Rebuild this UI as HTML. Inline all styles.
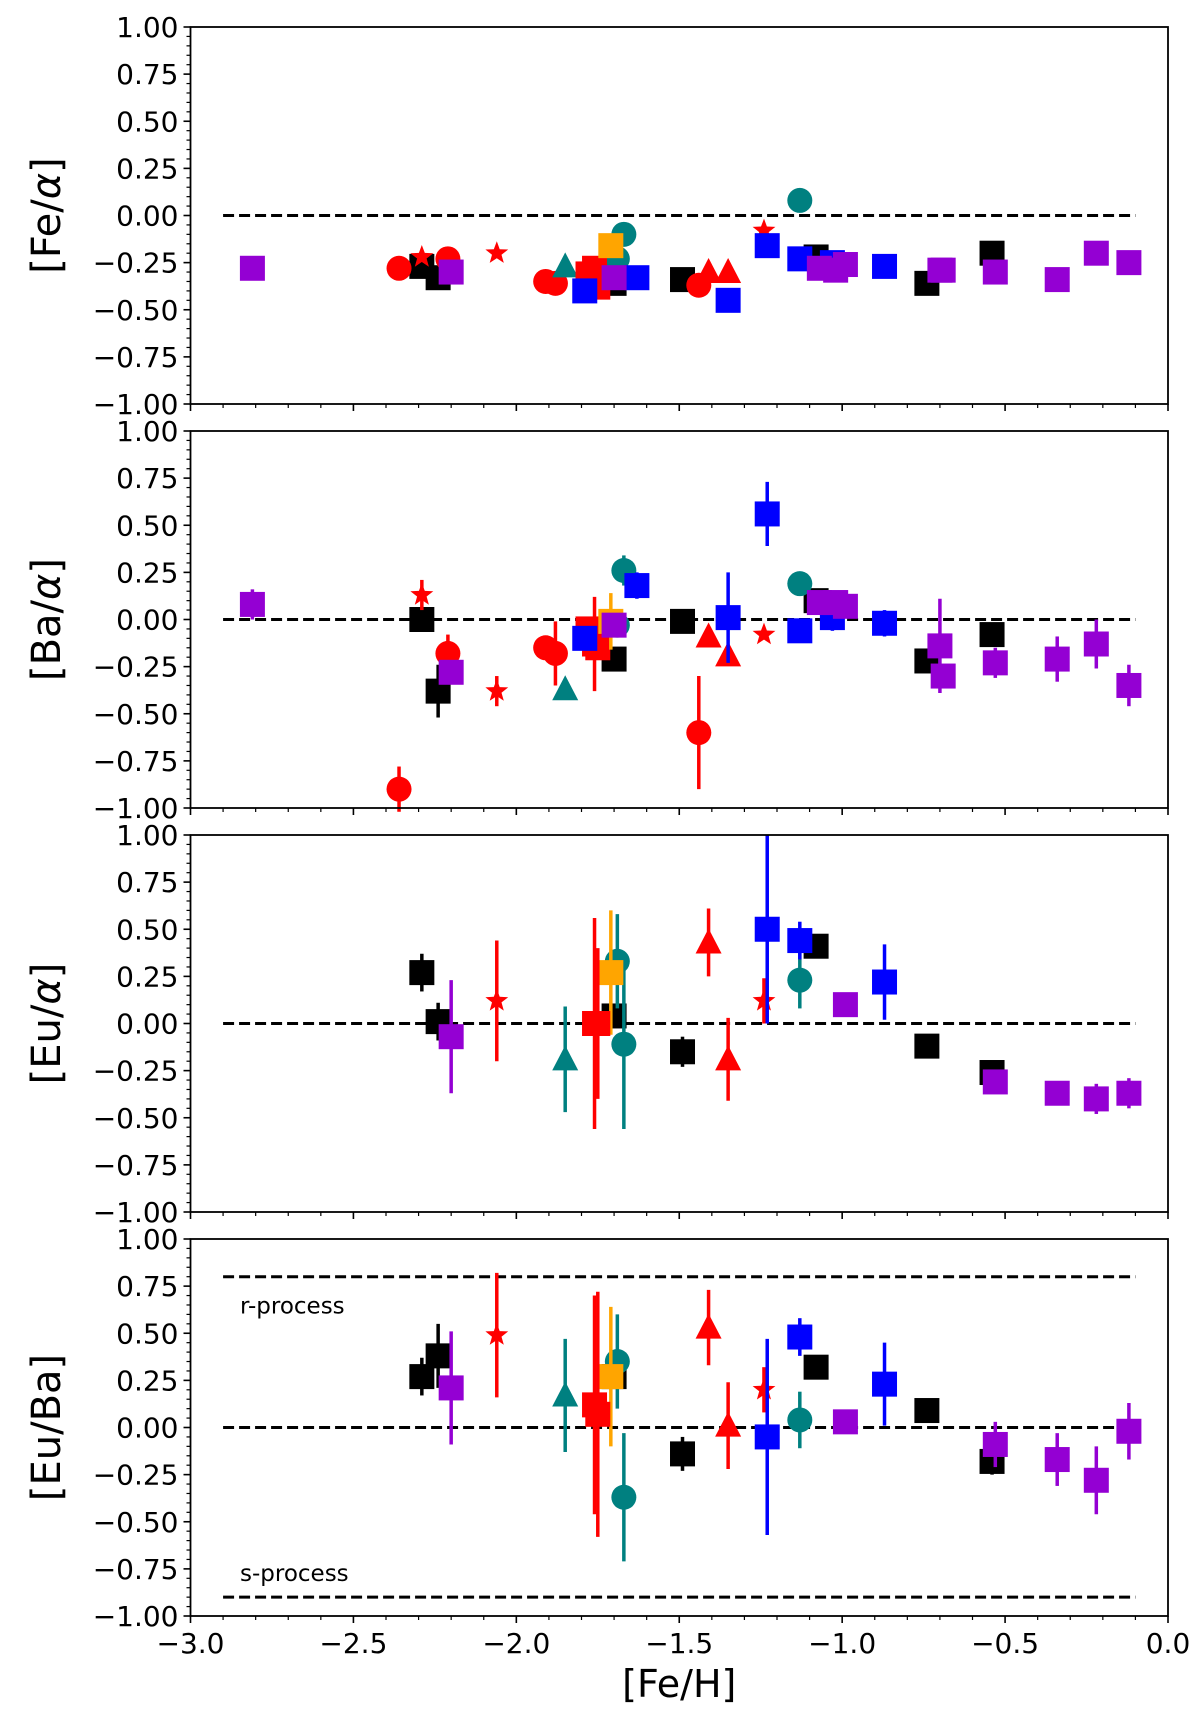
<!DOCTYPE html>
<html><head><meta charset="utf-8">
<style>
html,body{margin:0;padding:0;background:#fff;}
svg{display:block;font-family:"DejaVu Sans","Liberation Sans",sans-serif;}
</style></head>
<body>
<svg id="chart" width="1200" height="1720" viewBox="0 0 1200 1720" xmlns="http://www.w3.org/2000/svg"></svg>
<script>
// ---- data ----
const panelLabels = [["[Fe/","α","]"], ["[Ba/","α","]"], ["[Eu/","α","]"], ["[Eu/Ba]","",""]];
const yTickLabels = ["1.00","0.75","0.50","0.25","0.00","−0.25","−0.50","−0.75","−1.00"];
const yTickValues = [1,0.75,0.5,0.25,0,-0.25,-0.5,-0.75,-1];
const xTickValues = [-3,-2.5,-2,-1.5,-1,-0.5,0];
const xTickLabels = ["−3.0","−2.5","−2.0","−1.5","−1.0","−0.5","0.0"];

// black squares
const blackX  = [-2.29,-2.24,-1.70,-1.49,-1.08,-0.74,-0.54];
const blackP1 = [-0.27,-0.33,-0.36,-0.34,-0.22,-0.36,-0.20];
const blackP2 = [0.00,-0.38,-0.21,-0.01,0.10,-0.22,-0.08];
const blackE2 = [0.03,0.14,0.05,0.03,0.03,0.04,0.04];
const blackP3 = [0.27,0.01,0.04,-0.15,0.41,-0.12,-0.26];
const blackE3 = [0.10,0.10,0.06,0.08,0.03,0.03,0.05];
const blackP4 = [0.27,0.38,0.27,-0.14,0.32,0.09,-0.18];
const blackE4 = [0.10,0.17,0.05,0.09,0.03,0.05,0.07];
// purple squares
const purpX  = [-2.81,-2.20,-1.70,-1.07,-1.02,-0.99,-0.70,-0.69,-0.53,-0.34,-0.22,-0.12];
const purpP1 = [-0.28,-0.30,-0.33,-0.28,-0.29,-0.26,-0.29,-0.29,-0.30,-0.34,-0.20,-0.25];
const purpP2 = [0.08,-0.28,-0.03,0.09,0.09,0.07,-0.14,-0.30,-0.23,-0.21,-0.13,-0.35];
const purpE2 = [0.08,0.03,0.03,0.03,0.03,0.03,0.25,0.05,0.08,0.12,0.13,0.11];
const purp3X = [-2.20,-0.99,-0.53,-0.34,-0.22,-0.12];
const purpP3 = [-0.07,0.10,-0.31,-0.37,-0.40,-0.37];
const purpE3 = [0.30,0.04,0.06,0.05,0.08,0.08];
const purpP4 = [0.21,0.03,-0.09,-0.17,-0.28,-0.02];
const purpE4 = [0.30,0.06,0.12,0.14,0.18,0.15];
// blue squares
const blueX  = [-1.79,-1.63,-1.35,-1.23,-1.13,-1.03,-0.87];
const blueP1 = [-0.40,-0.33,-0.45,-0.16,-0.23,-0.25,-0.27];
const blueP2 = [-0.10,0.18,0.01,0.56,-0.06,0.01,-0.02];
const blueE2 = [0.04,0.07,0.24,0.17,0.03,0.07,0.07];
const blue3X = [-1.23,-1.13,-0.87];
const blueP3 = [0.50,0.44,0.22];
const blueE3 = [0.50,0.10,0.20];
const blueP4 = [-0.05,0.48,0.23];
const blueE4 = [0.52,0.10,0.22];
// red squares
const redSqX  = [-1.78,-1.76,-1.75];
const redSqP1 = [-0.31,-0.28,-0.38];
const redSqP2 = [-0.05,-0.13,-0.15];
const redSqE2 = [0.05,0.25,0.05];
const redSq3X = [-1.76,-1.75];
const redSqP3 = [0.00,0.00];
const redSqE3 = [0.56,0.40];
const redSqP4 = [0.12,0.07];
const redSqE4 = [0.58,0.65];
// orange square
const orangeX = [-1.71];
const orangeP1 = [-0.16];
const orangeP2 = [-0.01]; const orangeE2 = [0.15];
const orangeP3 = [0.27];  const orangeE3 = [0.33];
const orangeP4 = [0.27];  const orangeE4 = [0.37];
// red circles
const redCircX  = [-2.36,-2.21,-1.91,-1.88,-1.44];
const redCircP1 = [-0.28,-0.23,-0.35,-0.36,-0.37];
const redCircP2 = [-0.90,-0.18,-0.15,-0.18,-0.60];
const redCircE2 = [0.12,0.10,0.03,0.17,0.30];
// teal circles
const tealCircX  = [-1.69,-1.67,-1.13];
const tealCircP1 = [-0.23,-0.10,0.08];
const tealCircP2 = [-0.03,0.26,0.19];
const tealCircE2 = [0.03,0.08,0.03];
const tealCircP3 = [0.33,-0.11,0.23];
const tealCircE3 = [0.25,0.45,0.15];
const tealCircP4 = [0.35,-0.37,0.04];
const tealCircE4 = [0.25,0.34,0.15];
// red triangles
const redTriX = [-1.41,-1.35];
const redTriP1 = [-0.30,-0.30];
const redTriP2 = [-0.09,-0.19]; const redTriE2 = [0.03,0.03];
const redTriP3 = [0.43,-0.19];  const redTriE3 = [0.18,0.22];
const redTriP4 = [0.53,0.01];   const redTriE4 = [0.20,0.23];
// teal triangle
const tealTriX = [-1.85];
const tealTriP1 = [-0.27];
const tealTriP2 = [-0.37]; const tealTriE2 = [0.03];
const tealTriP3 = [-0.19]; const tealTriE3 = [0.28];
const tealTriP4 = [0.17];  const tealTriE4 = [0.30];
// red stars
const starX  = [-2.29,-2.06,-1.24];
const starP1 = [-0.22,-0.20,-0.08];
const starP2 = [0.13,-0.38,-0.08];
const starE2 = [0.08,0.08,0.02];
const star3X = [-2.06,-1.24];
const starP3 = [0.12,0.12]; const starE3 = [0.32,0.12];
const starP4 = [0.49,0.20]; const starE4 = [0.33,0.12];

// ---- layout ----
const svg = document.getElementById('chart');
const NS = 'http://www.w3.org/2000/svg';
const L = 190.5, R = 1168, TOP0 = 27, PH = 377, PITCH = 404;
function xs(v){ return L + (v + 3) / 3 * (R - L); }
function ys(i, v){ const t = TOP0 + PITCH * i; return t + (1 - v) / 2 * PH; }
function mk(tag, attrs, parent){ const e = document.createElementNS(NS, tag); for (const k in attrs) e.setAttribute(k, attrs[k]); (parent||svg).appendChild(e); return e; }

const C = {black:'#000000', purple:'#9400d3', blue:'#0000ff', red:'#ff0000', orange:'#ffa500', teal:'#008080'};

function drawMarker(g, shape, cx, cy, color){
  let m;
  if (shape === 'square') m = mk('rect', {x:cx-12.5, y:cy-12.5, width:25, height:25, fill:color}, g);
  else if (shape === 'circle') m = mk('circle', {cx:cx, cy:cy, r:12.5, fill:color}, g);
  else if (shape === 'triangle') m = mk('polygon', {points:`${cx},${cy-14} ${cx+13},${cy+11} ${cx-13},${cy+11}`, fill:color}, g);
  else {
    let p = [];
    for (let k = 0; k < 10; k++) { const r = k % 2 ? 5 : 12; const a = -Math.PI/2 + k*Math.PI/5; p.push((cx + r*Math.cos(a)).toFixed(1) + ',' + (cy + r*Math.sin(a)).toFixed(1)); }
    m = mk('polygon', {points:p.join(' '), fill:color}, g);
  }
  
  
}

function series(i, name, shape, color, X, Y, E){
  const g = mk('g', {}, svg);
  
  
  for (let k = 0; k < X.length; k++) {
    if (E) {
      const eb = mk('line', {x1:xs(X[k]), x2:xs(X[k]), y1:ys(i, Y[k]+E[k]), y2:ys(i, Y[k]-E[k]), stroke:color, 'stroke-width':3.5}, g);
      
      
    }
  }
  for (let k = 0; k < X.length; k++) drawMarker(g, shape, xs(X[k]), ys(i, Y[k]), color);
}

function dashed(i, v, name){
  const d = mk('line', {x1:xs(-2.9), x2:xs(-0.1), y1:ys(i, v), y2:ys(i, v), stroke:'#000', 'stroke-width':3, 'stroke-dasharray':'11,5'});
  
  
}

for (let i = 0; i < 4; i++) {
  const t = TOP0 + PITCH * i;
  const ax = mk('g', {});
  
  
  for (let k = 0; k < yTickValues.length; k++) {
    const y = ys(i, yTickValues[k]);
    mk('line', {x1:L-7, x2:L, y1:y, y2:y, stroke:'#000', 'stroke-width':1.6}, ax);
    const tl = mk('text', {x:L-12, y:y+10, 'text-anchor':'end', 'font-size':28, fill:'#000'}, ax);
    tl.textContent = yTickLabels[k];
    
    
  }
  for (let v = -0.95; v < 1; v += 0.05) {
    if (Math.abs(Math.round(v*4) - v*4) < 1e-6) continue;
    const y = ys(i, v);
    mk('line', {x1:L-4, x2:L, y1:y, y2:y, stroke:'#000', 'stroke-width':1.2}, ax);
  }
  for (let k = 0; k < xTickValues.length; k++) {
    const x = xs(xTickValues[k]);
    mk('line', {x1:x, x2:x, y1:t+PH, y2:t+PH+7, stroke:'#000', 'stroke-width':1.6}, ax);
    if (i === 3) {
      const tl = mk('text', {x:x, y:t+PH+37, 'text-anchor':'middle', 'font-size':28, fill:'#000'}, ax);
      tl.textContent = xTickLabels[k];
      
      
    }
  }
  for (let v = -2.9; v < 0; v += 0.1) {
    if (Math.abs(Math.round(v*2) - v*2) < 1e-6) continue;
    const x = xs(v);
    mk('line', {x1:x, x2:x, y1:t+PH, y2:t+PH+4, stroke:'#000', 'stroke-width':1.2}, ax);
  }
  const yl = mk('text', {x:0, y:0, transform:`translate(60 ${t+PH/2}) rotate(-90)`, 'text-anchor':'middle', 'font-size':40, fill:'#000'}, ax);
  
  
  const parts = panelLabels[i];
  const s1 = mk('tspan', {}, yl); s1.textContent = parts[0];
  if (parts[1]) { const s2 = mk('tspan', {'font-style':'italic'}, yl); s2.textContent = parts[1]; }
  if (parts[2]) { const s3 = mk('tspan', {}, yl); s3.textContent = parts[2]; }
  dashed(i, 0, 'zero-line');
}
dashed(3, 0.8, 'r-process-line');
dashed(3, -0.9, 's-process-line');
const rl = mk('text', {x:240, y:ys(3,0.8)+37, 'font-size':23, fill:'#000'}); rl.textContent = 'r-process';


const sl = mk('text', {x:240, y:ys(3,-0.9)-16, 'font-size':23, fill:'#000'}); sl.textContent = 's-process';


const xl = mk('text', {x:(L+R)/2, y:1697, 'text-anchor':'middle', 'font-size':38, fill:'#000'}); xl.textContent = '[Fe/H]';



series(0,'black-squares','square',C.black,blackX,blackP1,null);
series(0,'red-circles','circle',C.red,redCircX,redCircP1,null);
series(0,'red-stars','star',C.red,starX,starP1,null);
series(0,'teal-triangle','triangle',C.teal,tealTriX,tealTriP1,null);
series(0,'red-triangles','triangle',C.red,redTriX,redTriP1,null);
series(0,'teal-circles','circle',C.teal,tealCircX,tealCircP1,null);
series(0,'red-squares','square',C.red,redSqX,redSqP1,null);
series(0,'orange-square','square',C.orange,orangeX,orangeP1,null);
series(0,'blue-squares','square',C.blue,blueX,blueP1,null);
series(0,'purple-squares','square',C.purple,purpX,purpP1,null);
series(1,'black-squares','square',C.black,blackX,blackP2,blackE2);
series(1,'red-circles','circle',C.red,redCircX,redCircP2,redCircE2);
series(1,'red-stars','star',C.red,starX,starP2,starE2);
series(1,'teal-triangle','triangle',C.teal,tealTriX,tealTriP2,tealTriE2);
series(1,'red-triangles','triangle',C.red,redTriX,redTriP2,redTriE2);
series(1,'teal-circles','circle',C.teal,tealCircX,tealCircP2,tealCircE2);
series(1,'red-squares','square',C.red,redSqX,redSqP2,redSqE2);
series(1,'orange-square','square',C.orange,orangeX,orangeP2,orangeE2);
series(1,'blue-squares','square',C.blue,blueX,blueP2,blueE2);
series(1,'purple-squares','square',C.purple,purpX,purpP2,purpE2);
series(2,'black-squares','square',C.black,blackX,blackP3,blackE3);
series(2,'red-stars','star',C.red,star3X,starP3,starE3);
series(2,'teal-triangle','triangle',C.teal,tealTriX,tealTriP3,tealTriE3);
series(2,'red-triangles','triangle',C.red,redTriX,redTriP3,redTriE3);
series(2,'teal-circles','circle',C.teal,tealCircX,tealCircP3,tealCircE3);
series(2,'orange-square','square',C.orange,orangeX,orangeP3,orangeE3);
series(2,'red-squares','square',C.red,redSq3X,redSqP3,redSqE3);
series(2,'blue-squares','square',C.blue,blue3X,blueP3,blueE3);
series(2,'purple-squares','square',C.purple,purp3X,purpP3,purpE3);
series(3,'black-squares','square',C.black,blackX,blackP4,blackE4);
series(3,'red-stars','star',C.red,star3X,starP4,starE4);
series(3,'teal-triangle','triangle',C.teal,tealTriX,tealTriP4,tealTriE4);
series(3,'red-triangles','triangle',C.red,redTriX,redTriP4,redTriE4);
series(3,'teal-circles','circle',C.teal,tealCircX,tealCircP4,tealCircE4);
series(3,'orange-square','square',C.orange,orangeX,orangeP4,orangeE4);
series(3,'red-squares','square',C.red,redSq3X,redSqP4,redSqE4);
series(3,'blue-squares','square',C.blue,blue3X,blueP4,blueE4);
series(3,'purple-squares','square',C.purple,purp3X,purpP4,purpE4);

for (let i = 0; i < 4; i++) {
  const f = mk('rect', {x:L, y:TOP0+PITCH*i, width:R-L, height:PH, fill:'none', stroke:'#000', 'stroke-width':1.8});
  
  
}
</script>
</body></html>
